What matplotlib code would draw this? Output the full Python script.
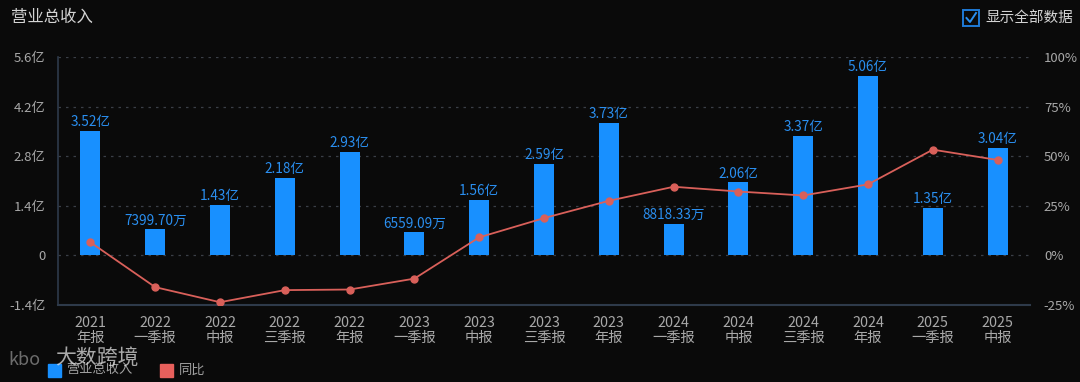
import matplotlib
matplotlib.use("Agg")
import matplotlib.pyplot as plt
from matplotlib.patches import Rectangle
from matplotlib.lines import Line2D
import numpy as np

plt.rcParams['font.family'] = ['Noto Sans CJK SC', 'DejaVu Sans']

periods = ["2021\n年报", "2022\n一季报", "2022\n中报", "2022\n三季报", "2022\n年报",
           "2023\n一季报", "2023\n中报", "2023\n三季报", "2023\n年报", "2024\n一季报",
           "2024\n中报", "2024\n三季报", "2024\n年报", "2025\n一季报", "2025\n中报"]
revenue = [3.52, 0.739970, 1.43, 2.18, 2.93, 0.655909, 1.56, 2.59, 3.73, 0.881833,
           2.06, 3.37, 5.06, 1.35, 3.04]  # 亿
revenue_labels = ["3.52亿", "7399.70万", "1.43亿", "2.18亿", "2.93亿", "6559.09万", "1.56亿",
                  "2.59亿", "3.73亿", "8818.33万", "2.06亿", "3.37亿", "5.06亿", "1.35亿", "3.04亿"]
yoy = [6.6, -16.0, -23.6, -17.5, -17.2, -11.7, 9.1, 18.8, 27.5, 34.6, 32.2, 30.2, 35.8, 53.3, 48.1]
left_ticks = [-1.4, 0, 1.4, 2.8, 4.2, 5.6]
left_tick_labels = ["-1.4亿", "0", "1.4亿", "2.8亿", "4.2亿", "5.6亿"]
right_ticks = [-25, 0, 25, 50, 75, 100]
right_tick_labels = ["-25%", "0%", "25%", "50%", "75%", "100%"]

BG = "#0a0a0a"
BAR = "#1890ff"
LINE = "#d9605a"
TICK = "#a8a8a8"
GRID = "#3a3f47"
SPINE = "#2e3a4a"

fig = plt.figure(figsize=(10.8, 3.82), dpi=100, facecolor=BG)
ax = fig.add_axes([58/1080, 1-305/382, (1030-58)/1080, (305-57)/382])
ax.set_facecolor(BG)
x = np.arange(len(periods))
ax.bar(x, revenue, width=0.31, color=BAR, zorder=2)
for xi, v, lab in zip(x, revenue, revenue_labels):
    ax.text(xi, v + 0.05, lab, ha="center", va="bottom", color="#2a8ff0", fontsize=9.8, zorder=4)
ax.set_ylim(-1.4, 5.6)
ax.set_xlim(-0.5, len(periods) - 0.5)
ax.set_yticks(left_ticks)
ax.set_yticklabels(left_tick_labels)
ax.set_xticks(x)
ax.set_xticklabels(periods, linespacing=1.05)
ax.tick_params(axis="both", colors=TICK, labelsize=9.5, length=0)
ax.tick_params(axis="x", labelsize=10.3, pad=8)
ax.tick_params(axis="y", pad=9)
for yv in [0, 1.4, 2.8, 4.2, 5.6]:
    ax.axhline(yv, color=GRID, lw=0.9, ls=(0, (2, 4)), zorder=1)
for s in ["top", "right"]:
    ax.spines[s].set_visible(False)
ax.spines["left"].set_color(SPINE)
ax.spines["bottom"].set_color(SPINE)
ax.spines["left"].set_linewidth(1.2)
ax.spines["bottom"].set_linewidth(1.5)

ax2 = ax.twinx()
ax2.plot(x, yoy, color=LINE, lw=1.3, marker="o", ms=5, zorder=3)
ax2.set_ylim(-25, 100)
ax2.set_yticks(right_ticks)
ax2.set_yticklabels(right_tick_labels)
ax2.tick_params(axis="y", colors=TICK, labelsize=9.5, length=0, pad=10)
for s in ["top", "right", "left", "bottom"]:
    ax2.spines[s].set_visible(False)

# title
fig.text(11/1080, 1-17/382, "营业总收入", color="#d4d4d4", fontsize=11.8, va="center", ha="left")

# checkbox
fig.add_artist(Rectangle((963/1080, 1-26/382), 16/1080, 16/382, transform=fig.transFigure,
                         fill=False, edgecolor="#1e7ad6", lw=1.4))
fig.add_artist(Line2D([966.5/1080, 970/1080, 976/1080], [1-18/382, 1-22/382, 1-13/382],
                      transform=fig.transFigure, color="#2a8ff0", lw=1.4))
fig.text(985/1080, 1-18/382, "显示全部数据", color="#d4d4d4", fontsize=10.5, va="center", ha="left")

# legend
fig.add_artist(Rectangle((48/1080, 1-377/382), 13/1080, 13/382, transform=fig.transFigure,
                         color=BAR))
fig.text(66/1080, 1-370/382, "营业总收入", color="#a0a0a0", fontsize=9.5, va="center", ha="left")
fig.add_artist(Rectangle((160/1080, 1-377/382), 13/1080, 13/382, transform=fig.transFigure,
                         color="#e8605c"))
fig.text(179/1080, 1-370/382, "同比", color="#a0a0a0", fontsize=9.5, va="center", ha="left")

# watermark
fig.text(8/1080, 1-360/382, "kbo", color="#cfcfcf", alpha=0.5, fontsize=13, va="center", ha="left")
fig.text(55/1080, 1-359/382, "大数跨境", color="#e0e0e0", alpha=0.75, fontsize=15, va="center", ha="left")

fig.savefig("out.png", dpi=100, facecolor=BG)
